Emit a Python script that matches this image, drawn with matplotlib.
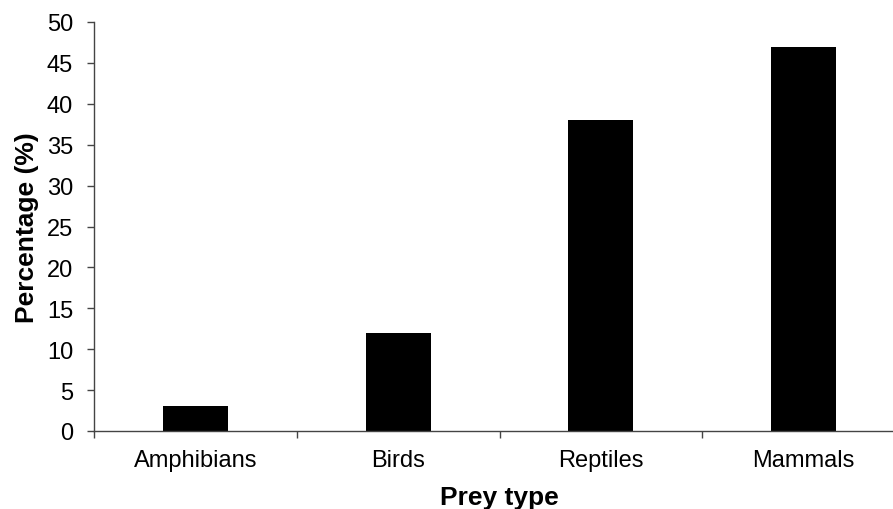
import matplotlib
matplotlib.use("Agg")
import matplotlib.pyplot as plt
import numpy as np

categories = ["Amphibians", "Birds", "Reptiles", "Mammals"]
values = [3, 12, 38, 47]
yticks = list(range(0, 55, 5))

plt.rcParams['font.family'] = ['Liberation Sans', 'DejaVu Sans']

fig = plt.figure(figsize=(8.93, 5.10), dpi=100)
ax = fig.add_axes([94/893, 1-432/510, (905-94)/893, (432-23)/510])

x = np.arange(len(categories))
ax.bar(x, values, width=0.32, color='black', edgecolor='none')

ax.set_xlim(-0.5, len(categories) - 0.5)
ax.set_ylim(0, 50)
ax.set_yticks(yticks)
ax.set_yticklabels([str(v) for v in yticks], fontsize=17)

ax.set_xticks(np.arange(len(categories) + 1) - 0.5)
ax.set_xticklabels([])
ax.set_xticks(x, minor=True)
ax.set_xticklabels(categories, minor=True, fontsize=17)
ax.tick_params(axis='x', which='minor', length=0, pad=13)
ax.tick_params(axis='x', which='major', length=5, width=1, color='#444444', direction='out')
ax.tick_params(axis='y', length=5, width=1, color='#444444', direction='out', pad=10)

for s in ['top', 'right']:
    ax.spines[s].set_visible(False)
for s in ['left', 'bottom']:
    ax.spines[s].set_color('#444444')
    ax.spines[s].set_linewidth(1)

ax.set_ylabel("Percentage (%)", fontsize=19, fontweight='bold', labelpad=6)
ax.set_xlabel("Prey type", fontsize=19, fontweight='bold')
ax.xaxis.set_label_coords(0.5, -0.132)

fig.savefig("out.png", dpi=100)
